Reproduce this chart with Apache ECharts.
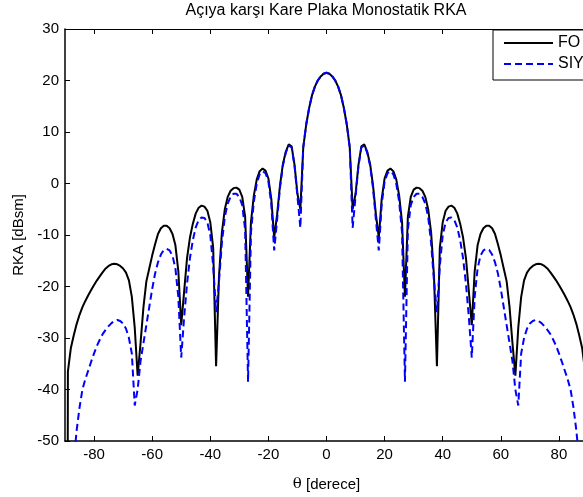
<!DOCTYPE html>
<html>
<head>
<meta charset="utf-8">
<script src="https://cdn.jsdelivr.net/npm/echarts@6/dist/echarts.min.js"></script>
<style>
  html, body { margin: 0; padding: 0; background: #fff; overflow: hidden; }
  #chart { width: 600px; height: 497px; }
</style>
</head>
<body>
<div id="chart"></div>
<script>
// Aspect angle in degrees
const theta = [
  -90, -89, -88, -87, -86, -85, -84, -83, -82, -81,
  -80, -79, -78, -77, -76, -75, -74, -73, -72, -71,
  -70, -69, -68, -67, -66, -65, -64, -63, -62, -61,
  -60, -59, -58, -57, -56, -55, -54, -53, -52, -51,
  -50, -49, -48, -47, -46, -45, -44, -43, -42, -41,
  -40, -39, -38, -37, -36, -35, -34, -33, -32, -31,
  -30, -29, -28, -27, -26, -25, -24, -23, -22, -21,
  -20, -19, -18, -17, -16, -15, -14, -13, -12, -11,
  -10, -9, -8, -7, -6, -5, -4, -3, -2, -1,
  0,
  1, 2, 3, 4, 5, 6, 7, 8, 9, 10,
  11, 12, 13, 14, 15, 16, 17, 18, 19, 20,
  21, 22, 23, 24, 25, 26, 27, 28, 29, 30,
  31, 32, 33, 34, 35, 36, 37, 38, 39, 40,
  41, 42, 43, 44, 45, 46, 47, 48, 49, 50,
  51, 52, 53, 54, 55, 56, 57, 58, 59, 60,
  61, 62, 63, 64, 65, 66, 67, 68, 69, 70,
  71, 72, 73, 74, 75, 76, 77, 78, 79, 80,
  81, 82, 83, 84, 85, 86, 87, 88, 89, 90
];

// Physical optics (FO) RCS, dBsm
const foValues = [
  -300, -36.5, -32.0, -29.5, -27.3, -25.5, -24.0, -22.8, -21.7, -20.7,
  -19.7, -18.8, -18.0, -17.2, -16.5, -16.0, -15.7, -15.6, -15.7, -16.0,
  -16.5, -17.3, -18.8, -22.0, -28.0, -37.3, -31.0, -24.0, -19.0, -16.5,
  -14.0, -11.8, -9.8, -8.7, -8.2, -8.2, -8.7, -9.8, -12.0, -17.0,
  -27.5, -21.0, -14.5, -10.5, -7.8, -5.8, -4.7, -4.3, -4.5, -5.3,
  -7.5, -12.5, -35.5, -18.0, -9.5, -5.0, -2.6, -1.4, -0.9, -0.8,
  -1.2, -2.6, -6.5, -22.0, -7.5, -2.3, 0.8, 2.4, 2.9, 2.5,
  1.0, -3.0, -10.5, -6.0, -0.3, 3.8, 6.2, 7.6, 7.2, 3.6,
  -2.0, -5.0, 7.0, 11.4, 14.6, 17.1, 18.8, 20.0, 20.8, 21.3,
  21.5,
  21.3, 20.8, 20.0, 18.8, 17.1, 14.6, 11.4, 7.0, -5.0, -2.0,
  3.6, 7.2, 7.6, 6.2, 3.8, -0.3, -6.0, -10.5, -3.0, 1.0,
  2.5, 2.9, 2.4, 0.8, -2.3, -7.5, -22.0, -6.5, -2.6, -1.2,
  -0.8, -0.9, -1.4, -2.6, -5.0, -9.5, -18.0, -35.5, -12.5, -7.5,
  -5.3, -4.5, -4.3, -4.7, -5.8, -7.8, -10.5, -14.5, -21.0, -27.5,
  -17.0, -12.0, -9.8, -8.7, -8.2, -8.2, -8.7, -9.8, -11.8, -14.0,
  -16.5, -19.0, -24.0, -31.0, -37.3, -28.0, -22.0, -18.8, -17.3, -16.5,
  -16.0, -15.7, -15.6, -15.7, -16.0, -16.5, -17.2, -18.0, -18.8, -19.7,
  -20.7, -21.7, -22.8, -24.0, -25.5, -27.3, -29.5, -32.0, -36.5, -300
];

// SIY RCS, dBsm
const siyValues = [
  -300, -75.0, -62.0, -54.0, -48.0, -43.5, -40.0, -38.0, -36.3, -34.6,
  -33.0, -31.5, -30.3, -29.2, -28.4, -27.7, -27.1, -26.7, -26.5, -26.7,
  -27.2, -28.2, -30.0, -33.0, -43.1, -40.0, -34.5, -31.0, -27.5, -24.0,
  -20.5, -17.5, -15.3, -13.8, -12.9, -12.7, -13.0, -14.0, -16.5, -22.0,
  -33.8, -26.0, -19.5, -14.5, -11.0, -8.5, -7.1, -6.6, -6.7, -7.6,
  -10.0, -16.0, -25.0, -19.0, -11.5, -6.5, -3.9, -2.6, -2.0, -2.0,
  -2.6, -4.2, -9.0, -38.5, -9.5, -3.5, 0.0, 1.8, 2.4, 2.0,
  0.4, -4.0, -13.0, -7.0, -0.8, 3.5, 6.0, 7.4, 7.0, 3.4,
  -2.5, -8.6, 7.0, 11.4, 14.6, 17.1, 18.8, 20.0, 20.8, 21.3,
  21.5,
  21.3, 20.8, 20.0, 18.8, 17.1, 14.6, 11.4, 7.0, -8.6, -2.5,
  3.4, 7.0, 7.4, 6.0, 3.5, -0.8, -7.0, -13.0, -4.0, 0.4,
  2.0, 2.4, 1.8, 0.0, -3.5, -9.5, -38.5, -9.0, -4.2, -2.6,
  -2.0, -2.0, -2.6, -3.9, -6.5, -11.5, -19.0, -25.0, -16.0, -10.0,
  -7.6, -6.7, -6.6, -7.1, -8.5, -11.0, -14.5, -19.5, -26.0, -33.8,
  -22.0, -16.5, -14.0, -13.0, -12.7, -12.9, -13.8, -15.3, -17.5, -20.5,
  -24.0, -27.5, -31.0, -34.5, -40.0, -43.1, -33.0, -30.0, -28.2, -27.2,
  -26.7, -26.5, -26.7, -27.1, -27.7, -28.4, -29.2, -30.3, -31.5, -33.0,
  -34.6, -36.3, -38.0, -40.0, -43.5, -48.0, -54.0, -62.0, -75.0, -300
];

const xTicks = [-80, -60, -40, -20, 0, 20, 40, 60, 80];
const seriesNames = ['FO', 'SIY'];
const titleText = 'Açıya karşı Kare Plaka Monostatik RKA';

const FONT = '"Liberation Sans", Arial, sans-serif';

function pairs(xs, ys) {
  return xs.map(function (x, i) { return [x, ys[i]]; });
}

const chart = echarts.init(document.getElementById('chart'), null, { renderer: 'canvas' });

const thinLine = { color: '#000', width: 1 };

chart.setOption({
  animation: false,
  backgroundColor: '#fff',
  title: {
    text: titleText,
    left: 326,
    top: 3,
    textAlign: 'center',
    padding: 0,
    textStyle: { fontFamily: FONT, fontSize: 16, fontWeight: 'normal', color: '#000' }
  },
  legend: {
    orient: 'vertical',
    left: 493,
    top: 30,
    padding: [5, 50, 8, 10],
    itemWidth: 49,
    itemHeight: 14,
    itemGap: 5,
    backgroundColor: '#fff',
    borderColor: '#000',
    borderWidth: 1,
    borderRadius: 0,
    selectedMode: false,
    itemStyle: { opacity: 0 },
    textStyle: { fontFamily: FONT, fontSize: 16, color: '#000' },
    data: seriesNames
  },
  grid: { left: 65, top: 29, width: 523, height: 417, containLabel: false },
  xAxis: [
    {
      type: 'value',
      min: -90,
      max: 90,
      position: 'bottom',
      name: '{t|θ} [derece]',
      nameLocation: 'middle',
      nameGap: 36,
      nameTextStyle: {
        fontFamily: FONT, fontSize: 15, color: '#000',
        rich: { t: { fontFamily: '"DejaVu Serif", "Liberation Serif", serif', fontSize: 15, color: '#000' } }
      },
      axisLine: { show: true, onZero: false, lineStyle: { color: '#000', width: 1.5 } },
      axisTick: { show: true, inside: true, length: 5, customValues: xTicks, lineStyle: thinLine },
      axisLabel: { show: true, margin: 6, customValues: xTicks, fontFamily: FONT, fontSize: 15, color: '#000' },
      splitLine: { show: false }
    },
    {
      type: 'value',
      min: -90,
      max: 90,
      position: 'top',
      axisLine: { show: true, onZero: false, lineStyle: thinLine },
      axisTick: { show: true, inside: true, length: 5, customValues: xTicks, lineStyle: thinLine },
      axisLabel: { show: false },
      splitLine: { show: false }
    }
  ],
  yAxis: [
    {
      type: 'value',
      min: -50,
      max: 30,
      interval: 10,
      position: 'left',
      name: 'RKA [dBsm]',
      nameLocation: 'middle',
      nameGap: 36,
      nameTextStyle: { fontFamily: FONT, fontSize: 15, color: '#000' },
      axisLine: { show: true, onZero: false, lineStyle: { color: '#000', width: 1.5 } },
      axisTick: { show: true, inside: true, length: 5, lineStyle: thinLine },
      axisLabel: { show: true, margin: 6, fontFamily: FONT, fontSize: 15, color: '#000' },
      splitLine: { show: false }
    },
    {
      type: 'value',
      min: -50,
      max: 30,
      interval: 10,
      position: 'right',
      axisLine: { show: true, onZero: false, lineStyle: thinLine },
      axisTick: { show: true, inside: true, length: 5, lineStyle: thinLine },
      axisLabel: { show: false },
      splitLine: { show: false }
    }
  ],
  series: [
    {
      name: seriesNames[0],
      type: 'line',
      xAxisIndex: 0,
      yAxisIndex: 0,
      data: pairs(theta, foValues),
      showSymbol: false,
      symbol: 'none',
      clip: true,
      lineStyle: { color: '#000', width: 2, type: 'solid' },
      itemStyle: { color: '#000' },
      z: 2
    },
    {
      name: seriesNames[1],
      type: 'line',
      xAxisIndex: 0,
      yAxisIndex: 0,
      data: pairs(theta, siyValues),
      showSymbol: false,
      symbol: 'none',
      clip: true,
      lineStyle: { color: '#0000ff', width: 2, type: [7, 4] },
      itemStyle: { color: '#0000ff' },
      z: 3
    }
  ]
});
</script>
</body>
</html>
